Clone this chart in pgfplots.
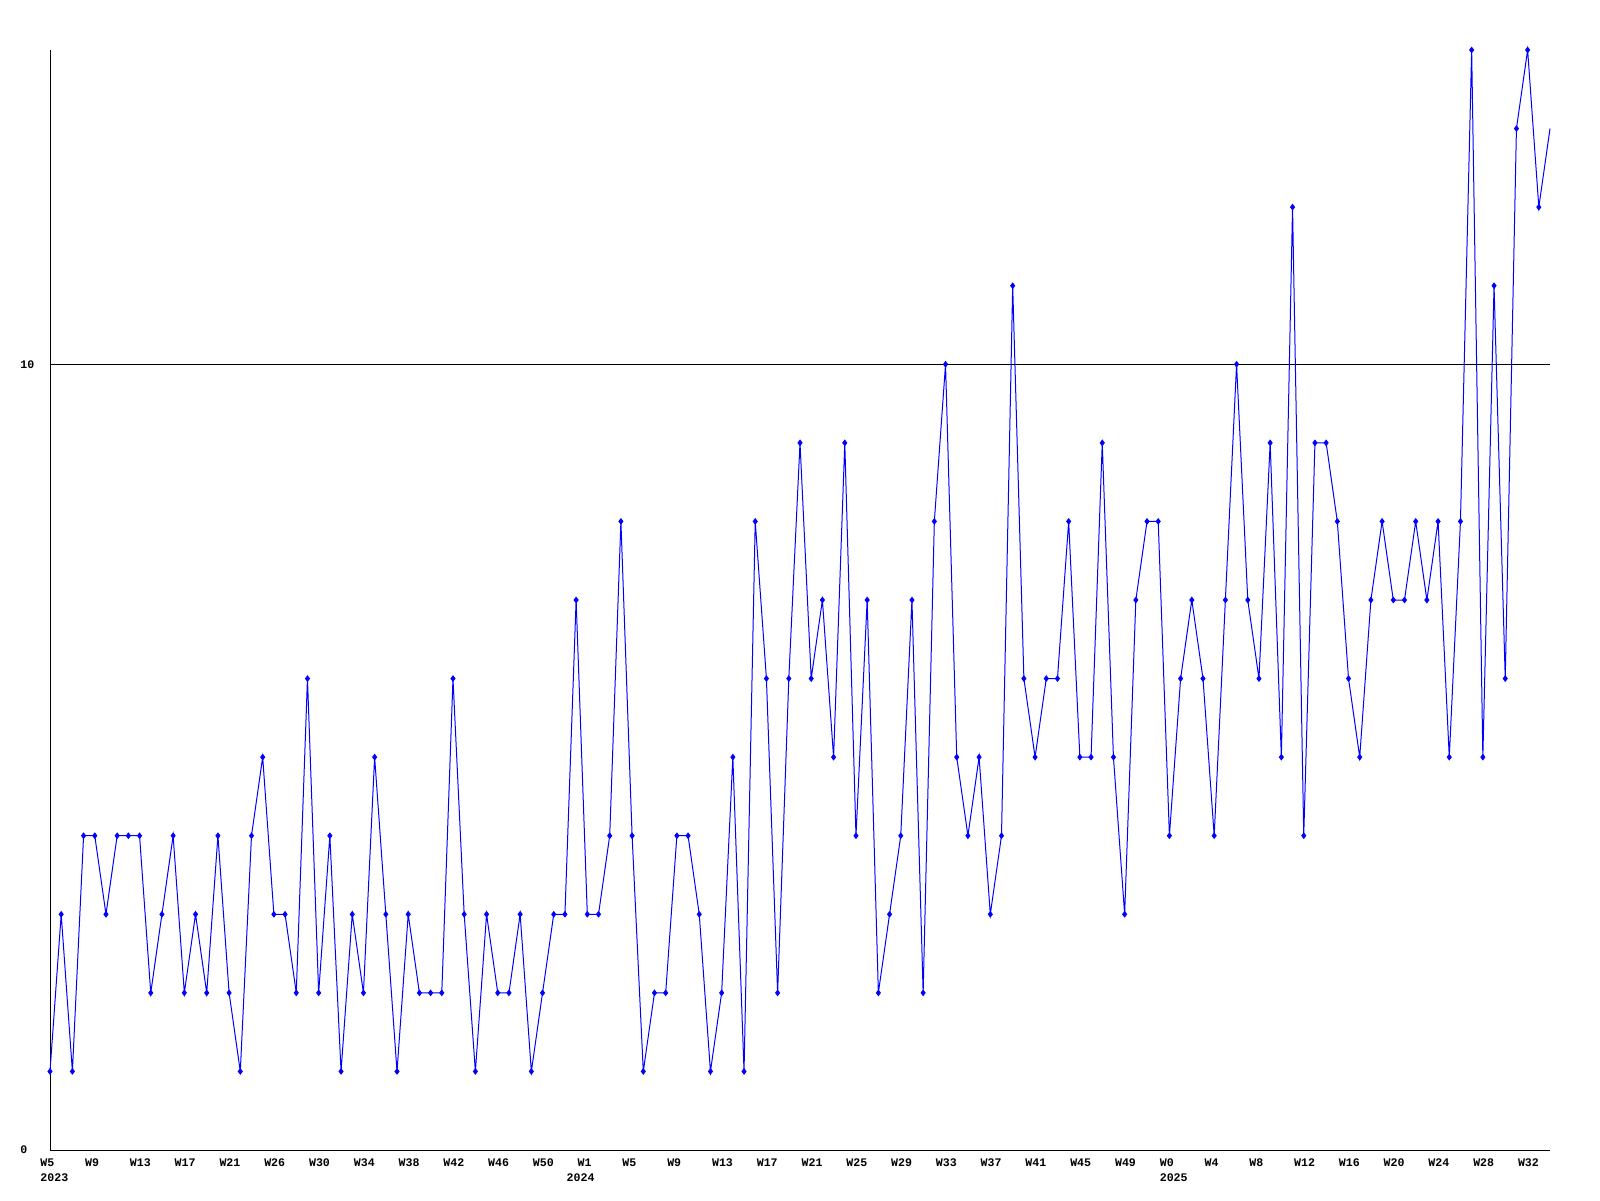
\documentclass[border=0pt]{standalone}
\usepackage{pgfplots}
\pgfplotsset{compat=1.18}
\usepackage{fontspec}
\setmainfont{Liberation Mono}

\newcommand{\lblfont}{\fontsize{5.8}{6.5}\selectfont\bfseries}

\begin{document}
\begin{tikzpicture}
  % 1 px of the reference = 0.5pt
  \path[use as bounding box, fill=white] (0,0) rectangle (800pt,600pt);
  \begin{axis}[
      at={(25pt,25pt)}, anchor=south west,
      scale only axis,
      width=750pt, height=550pt,
      xmin=0, xmax=134, ymin=0, ymax=14,
      clip=false,
      axis x line*=bottom, axis y line*=left,
      axis line style={-, black, line width=0.5pt},
      major tick length=0pt,
      xtick={0,4,...,132},
      xticklabels={W5,W9,W13,W17,W21,W26,W30,W34,W38,W42,W46,W50,
                   W1,W5,W9,W13,W17,W21,W25,W29,W33,W37,W41,W45,W49,
                   W0,W4,W8,W12,W16,W20,W24,W28,W32},
      xticklabel style={anchor=north west, xshift=-5pt, yshift=-4pt,
                        inner sep=0pt, font=\lblfont},
      ytick={0,10}, yticklabels={0,10},
      yticklabel style={anchor=west, xshift=-15pt, inner sep=0pt, font=\lblfont},
      ymajorgrids,
      grid style={black, line width=0.5pt},
      /pgf/number format/assume math mode=true,
    ]
    \addplot[blue, line width=0.5pt, mark=diamond*, mark size=1.3pt,
             mark options={blue}, mark indices={1,...,134}] coordinates {
      (0,1) (1,3) (2,1) (3,4) (4,4) (5,3) (6,4) (7,4) (8,4) (9,2)
      (10,3) (11,4) (12,2) (13,3) (14,2) (15,4) (16,2) (17,1) (18,4) (19,5)
      (20,3) (21,3) (22,2) (23,6) (24,2) (25,4) (26,1) (27,3) (28,2) (29,5)
      (30,3) (31,1) (32,3) (33,2) (34,2) (35,2) (36,6) (37,3) (38,1) (39,3)
      (40,2) (41,2) (42,3) (43,1) (44,2) (45,3) (46,3) (47,7) (48,3) (49,3)
      (50,4) (51,8) (52,4) (53,1) (54,2) (55,2) (56,4) (57,4) (58,3) (59,1)
      (60,2) (61,5) (62,1) (63,8) (64,6) (65,2) (66,6) (67,9) (68,6) (69,7)
      (70,5) (71,9) (72,4) (73,7) (74,2) (75,3) (76,4) (77,7) (78,2) (79,8)
      (80,10) (81,5) (82,4) (83,5) (84,3) (85,4) (86,11) (87,6) (88,5) (89,6)
      (90,6) (91,8) (92,5) (93,5) (94,9) (95,5) (96,3) (97,7) (98,8) (99,8)
      (100,4) (101,6) (102,7) (103,6) (104,4) (105,7) (106,10) (107,7) (108,6) (109,9)
      (110,5) (111,12) (112,4) (113,9) (114,9) (115,8) (116,6) (117,5) (118,7) (119,8)
      (120,7) (121,7) (122,8) (123,7) (124,8) (125,5) (126,8) (127,14) (128,5) (129,11)
      (130,6) (131,13) (132,14) (133,12) (134,13)
    };
    \node[anchor=north west, inner sep=0pt, font=\lblfont, xshift=-5pt, yshift=-11.5pt]
      at (axis cs:0,0) {2023};
    \node[anchor=north west, inner sep=0pt, font=\lblfont, xshift=-10.5pt, yshift=-11.5pt]
      at (axis cs:48,0) {2024};
    \node[anchor=north west, inner sep=0pt, font=\lblfont, xshift=-5pt, yshift=-11.5pt]
      at (axis cs:100,0) {2025};
  \end{axis}
\end{tikzpicture}
\end{document}
